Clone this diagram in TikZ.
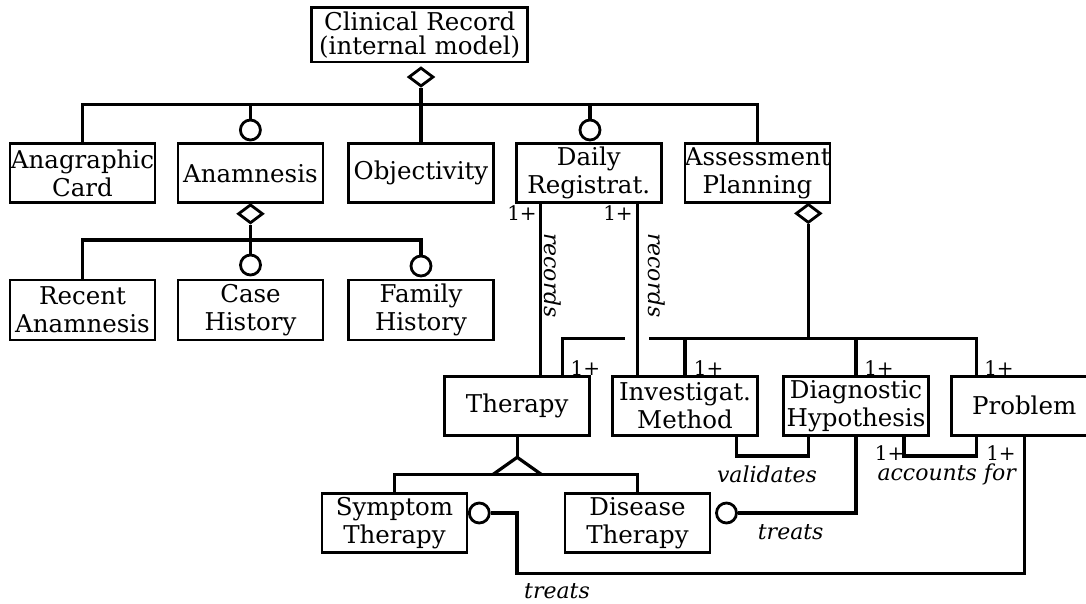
\documentclass[tikz,border=0pt]{standalone}
\usepackage{fontspec}
\setmainfont{DejaVu Serif}
\usetikzlibrary{shapes.geometric,calc}
\begin{document}
\begin{tikzpicture}[x=1pt,y=-1pt,
  box/.style={draw,line width=2.8pt,text width=145pt,inner xsep=0pt,inner ysep=0pt,
    minimum height=59pt,align=center,font=\fontsize{24.5}{28}\selectfont},
  conn/.style={line width=3.2pt},
  agg/.style={diamond,draw,line width=2.8pt,minimum width=25pt,minimum height=19pt,inner sep=0pt,fill=white},
  opt/.style={circle,draw,line width=2.8pt,minimum size=20pt,inner sep=0pt},
  mult/.style={font=\fontsize{20}{20}\selectfont,inner sep=0pt},
  role/.style={font=\itshape\fontsize{22}{22}\selectfont,inner sep=0pt},
]
\useasboundingbox (0,0) rectangle (1086,603);
\clip (0,0) rectangle (1086,603);

% boxes
\node[box,text width=216pt,minimum height=54.7pt,font=\fontsize{24.5}{24}\selectfont] (clin) at (419.7,34.7) {Clinical Record\\(internal model)};
\node[box] (anag) at (82.5,173.3) {Anagraphic\\Card};
\node[box] (anam) at (250.4,173.3) {Anamnesis};
\node[box] (obj) at (421,173.3) {Objectivity};
\node[box] (daily) at (588.8,173.3) {Daily\\Registrat.};
\node[box] (assess) at (757.4,173.3) {Assessment\\Planning};
\node[box,minimum height=60pt] (recent) at (82.5,310) {Recent\\Anamnesis};
\node[box,minimum height=60pt] (case) at (250.5,310) {Case\\History};
\node[box,minimum height=60pt] (family) at (421,310) {Family\\History};
\node[box] (therapy) at (517.2,405.7) {Therapy};
\node[box] (invest) at (685,405.7) {Investigat.\\Method};
\node[box] (diag) at (856,405.7) {Diagnostic\\Hypothesis};
\node[box] (problem) at (1024.2,405.7) {Problem};
\node[box] (symptom) at (394.5,523) {Symptom\\Therapy};
\node[box] (disease) at (637.5,523) {Disease\\Therapy};

% adornments
\node[agg] (d1) at (421,77) {};
\node[opt] (c1) at (250.4,130) {};
\node[opt] (c2) at (590,130) {};
\node[agg] (d2) at (250.5,213.8) {};
\node[opt] (c3) at (250.5,265) {};
\node[opt] (c4) at (421,266) {};
\node[agg] (d3) at (808.3,213.4) {};
\node[opt] (c5) at (479.3,513) {};
\node[opt] (c6) at (726.5,513) {};

% helper coordinates
\coordinate (bar1) at (0,104.3);
\coordinate (bar2) at (0,240);
\coordinate (bar3) at (0,338.3);
\coordinate (bar4) at (0,474.3);
\coordinate (lowv) at (0,456);
\coordinate (gapL) at (624.7,338.3);
\coordinate (gapR) at (649.3,338.3);
\coordinate (apex) at ($(therapy.south)+(0,20.7)$);
\coordinate (tb) at (517,573.7);

% top level
\draw[conn] (d1.south) -- (d1.south |- bar1);
\draw[conn] (anag.north) |- (assess.north |- bar1) -- (assess.north);
\draw[conn] (c1.north) -- (c1.north |- bar1);
\draw[conn] (c2.north) -- (c2.north |- bar1);
\draw[conn] (obj.north) -- (obj.north |- bar1);

% anamnesis
\draw[conn] (d2.south) -- (d2.south |- bar2);
\draw[conn] (recent.north) |- (c4.north |- bar2) -- (c4.north);
\draw[conn] (c3.north) -- (c3.north |- bar2);

% records
\draw[conn] ($(daily.south)+(-48,0)$) -- ($(daily.south|-therapy.north)+(-48,0)$);
\draw[conn] ($(daily.south)+(48.5,0)$) -- ($(daily.south|-invest.north)+(48.5,0)$);
\node[mult] (m1) at (522,213) {1+};
\node[mult] (m2) at (618,213) {1+};
\node[role,rotate=-90] (r1) at (553,275.5) {records};
\node[role,rotate=-90] (r2) at (657,275.5) {records};

% assessment planning
\draw[conn] (d3.south) -- (d3.south |- bar3);
\draw[conn] ($(therapy.north)+(45,0)$) |- (gapL);
\draw[conn] (gapR) -| ($(problem.north)+(-48,0)$);
\draw[conn] (invest.north) -- (invest.north |- bar3);
\draw[conn] (diag.north) -- (diag.north |- bar3);
\node[mult] (m3) at (585.3,367.7) {1+};
\node[mult] (m4) at (708.7,367.7) {1+};
\node[mult] (m5) at (879,367.7) {1+};
\node[mult] (m6) at (999,367.7) {1+};

% generalization
\draw[conn] (therapy.south) -- (apex);
\draw[conn] ($(apex|-bar4)+(-24,0)$) -- (apex) -- ($(apex|-bar4)+(24,0)$);
\draw[conn] (symptom.north) |- (disease.north |- bar4) -- (disease.north);

% treats (symptom)
\draw[conn] (c5.east) -| (tb) -| (problem.south);
\node[role] (t1) at (557,591) {treats};

% treats (disease)
\draw[conn] (c6.east) -| (diag.south);
\node[role] (t2) at (790.7,531.7) {treats};

% validates
\draw[conn] ($(invest.south)+(51.7,0)$) |- ($(diag.south|-lowv)+(-47.7,0)$) -- ($(diag.south)+(-47.7,0)$);
\node[role] (v1) at (767,474.3) {validates};

% accounts for
\draw[conn] ($(diag.south)+(48,0)$) |- ($(problem.south|-lowv)+(-48,0)$) -- ($(problem.south)+(-48,0)$);
\node[mult] (m7) at (889.7,452.7) {1+};
\node[mult] (m8) at (1001,452.7) {1+};
\node[role] (a1) at (946.7,474.3) {accounts for};
\end{tikzpicture}
\end{document}
